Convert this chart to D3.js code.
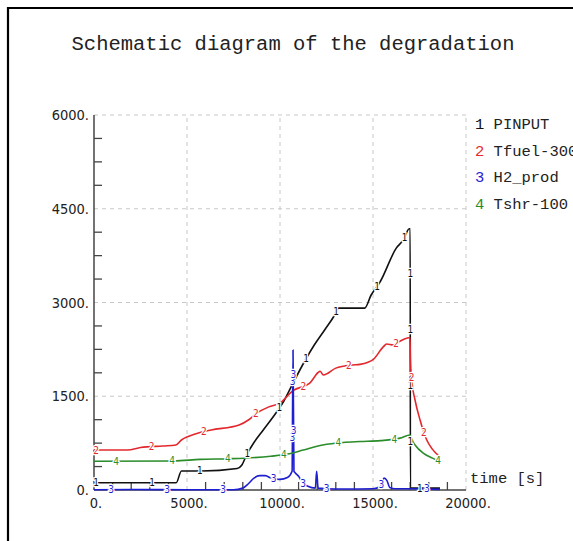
<!DOCTYPE html>
<html><head><meta charset="utf-8">
<script src="https://cdn.jsdelivr.net/npm/d3@7"></script>
<style>body{margin:0;background:#fff}</style>
</head><body>
<svg id="c" width="573" height="541"></svg>
<script>
const title = "Schematic diagram of the degradation";
const xTicks = [0, 5000, 10000, 15000, 20000];
const yTicks = [0, 1500, 3000, 4500, 6000];
const xLabel = "time [s]";
const seriesNames = ["PINPUT", "Tfuel-300", "H2_prod", "Tshr-100"];
const seriesIds = ["1", "2", "3", "4"];
const seriesColors = ["#111111", "#e3282d", "#1e1ed2", "#2a8c2a"];

const pinput = [[0,115],[4420,115],[4700,305],[5800,305],[7700,345],[7950,400],[8200,560],[8600,760],[9100,960],[9800,1240],[10200,1420],[10700,1710],[11250,2020],[11800,2300],[12400,2560],[12900,2780],[13150,2910],[14550,2910],[14900,3120],[15400,3340],[16250,3870],[16650,4010],[16950,4180],[17000,4180],[17010,30],[18600,30]];
const tfuel = [[0,640],[1800,640],[2500,680],[3700,705],[4400,720],[4700,800],[5100,860],[5700,920],[6300,960],[7800,1040],[8300,1120],[8750,1230],[9400,1330],[10000,1390],[10700,1590],[11600,1710],[12050,1880],[12150,1900],[12330,1840],[13000,1950],[13900,2000],[14300,2010],[14700,2040],[15020,2090],[15550,2290],[15735,2336],[16090,2320],[16450,2380],[16990,2440],[17010,2100],[17080,1760],[17260,1440],[17530,1120],[17890,800],[18200,650],[18600,530]];
const h2prod = [[0,5],[2000,8],[5000,5],[7500,5],[8000,30],[8300,100],[8600,190],[8900,230],[9200,230],[9600,180],[10000,170],[10400,200],[10650,300],[10700,2240],[10750,300],[10800,280],[11000,220],[11200,120],[11500,60],[11900,30],[11970,300],[12050,30],[12500,20],[13500,15],[15000,20],[15400,60],[15600,190],[15750,150],[15900,40],[16200,20],[17000,20],[18600,10]];
const tshr = [[0,460],[4300,465],[5700,490],[7300,500],[9500,540],[10500,580],[11250,640],[12300,720],[13400,760],[14300,775],[15400,790],[16450,830],[16990,880],[17050,840],[17150,770],[17260,720],[17700,590],[18200,510],[18600,455]];
const allSeries = [pinput, tfuel, h2prod, tshr];
const labelOffsets = [2, 2, 17, 22];
const labelSpacing = 56;

const svg = d3.select("#c");
// frame
svg.append("path").attr("d","M8,541 L8,8 L573,8").attr("fill","none").attr("stroke","#000").attr("stroke-width",2.2);

svg.append("text").attr("x",293).attr("y",50).attr("text-anchor","middle")
  .attr("font-family","Liberation Mono, DejaVu Sans Mono, monospace").attr("font-size",20.5)
  .attr("fill","#222").text(title);

const x = d3.scaleLinear().domain([0,20000]).range([94,466]);
const y = d3.scaleLinear().domain([0,6000]).range([490,115]);

// grid
const grid = svg.append("g").attr("stroke","#c8c8c8").attr("stroke-dasharray","4,4").attr("stroke-width",1);
xTicks.filter(d=>d>0).forEach(d=>grid.append("line").attr("x1",x(d)).attr("x2",x(d)).attr("y1",y(0)).attr("y2",y(6000)));
yTicks.filter(d=>d>0).forEach(d=>grid.append("line").attr("x1",x(0)).attr("x2",x(20000)).attr("y1",y(d)).attr("y2",y(d)));

// axes lines
svg.append("line").attr("x1",x(0)).attr("x2",x(0)).attr("y1",y(0)).attr("y2",y(6000)).attr("stroke","#444").attr("stroke-width",1.5);
svg.append("line").attr("x1",x(0)).attr("x2",x(20000)).attr("y1",y(0)).attr("y2",y(0)).attr("stroke","#444").attr("stroke-width",1.5);
// minor ticks
const yMinor = d3.range(375, 6000, 375).filter(d=>d%1500!==0);
yMinor.forEach(d=>svg.append("line").attr("x1",x(0)).attr("x2",x(0)+8).attr("y1",y(d)).attr("y2",y(d)).attr("stroke","#444").attr("stroke-width",1.3));
const xMinor = d3.range(1000, 20000, 1000).filter(d=>d%5000!==0);
xMinor.forEach(d=>svg.append("line").attr("x1",x(d)).attr("x2",x(d)).attr("y1",y(0)).attr("y2",y(0)-8).attr("stroke","#444").attr("stroke-width",1.3));

const tickFont = "DejaVu Sans Condensed, Liberation Sans Narrow, Liberation Sans, sans-serif";
yTicks.forEach(d=>svg.append("text").attr("x",89).attr("y",y(d)+5).attr("text-anchor","end")
  .attr("font-family",tickFont).attr("font-size",14.5).attr("fill","#222").text(d+"."));
xTicks.forEach(d=>svg.append("text").attr("x",x(d)+2).attr("y",508).attr("text-anchor","middle")
  .attr("font-family",tickFont).attr("font-size",14.5).attr("fill","#222").text(d+"."));

svg.append("text").attr("x",470).attr("y",483).attr("font-family","Liberation Mono, DejaVu Sans Mono, monospace")
  .attr("font-size",15.5).attr("fill","#222").text(xLabel);

// lines
const line = d3.line().x(d=>x(d[0])).y(d=>y(d[1])).curve(d3.curveMonotoneX);
const paths = allSeries.map((s,i)=>svg.append("path").datum(s).attr("d",line).attr("fill","none")
  .attr("stroke",seriesColors[i]).attr("stroke-width",1.6).attr("stroke-linejoin","round"));

// curve labels along arc length
const labG = svg.append("g");
paths.forEach((p,i)=>{
  const node = p.node(); const L = node.getTotalLength();
  for(let s=labelOffsets[i]; s<L; s+=labelSpacing){
    const pt = node.getPointAtLength(s);
    labG.append("text").attr("x",pt.x).attr("y",pt.y+3.5).attr("text-anchor","middle")
      .attr("font-family",tickFont).attr("font-size",10).attr("fill",seriesColors[i])
      .attr("stroke","#fff").attr("stroke-width",2.5).attr("paint-order","stroke").text(seriesIds[i]);
  }
});

// legend
seriesNames.forEach((n,i)=>{
  const t = svg.append("text").attr("x",475).attr("y",129+i*26.5)
    .attr("font-family","Liberation Mono, DejaVu Sans Mono, monospace").attr("font-size",15.5).attr("fill","#222");
  t.append("tspan").attr("fill",seriesColors[i]).text(seriesIds[i]);
  t.append("tspan").text(" "+n);
});
</script>
</body></html>
